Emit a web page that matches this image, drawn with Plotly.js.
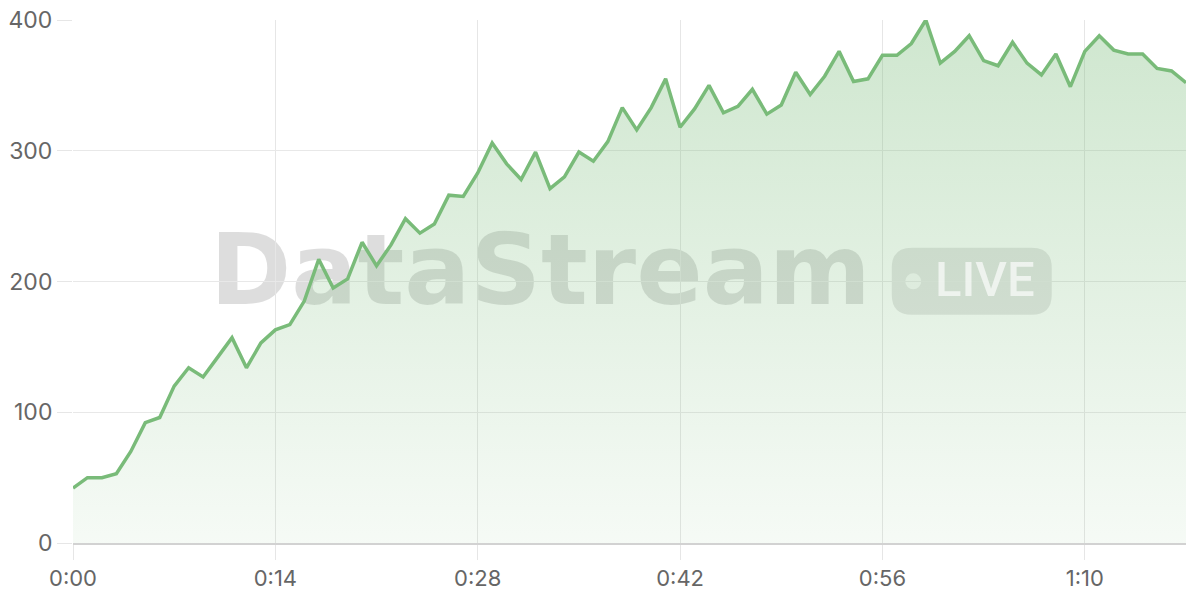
<!DOCTYPE html>
<html>
<head>
<meta charset="utf-8">
<script src="https://cdn.plot.ly/plotly-3.0.1.min.js"></script>
<style>
  html, body { margin: 0; padding: 0; background: #ffffff; }
  #chart { width: 1200px; height: 600px; }
</style>
</head>
<body>
<div id="chart"></div>
<script>
// elapsed time in seconds
const seconds = [0,1,2,3,4,5,6,7,8,9,10,11,12,13,14,15,16,17,18,19,20,21,22,23,24,25,26,27,28,29,30,31,32,33,34,35,36,37,38,39,40,41,42,43,44,45,46,47,48,49,50,51,52,53,54,55,56,57,58,59,60,61,62,63,64,65,66,67,68,69,70,71,72,73,74,75,76,77];
// streamed value
const values = [42,50,50,53,70,92,96,120,134,127,142,157,134,153,163,167,185,217,195,202,230,212,228,248,237,244,266,265,283,306,290,278,299,271,280,299,292,307,333,316,333,355,318,332,350,329,334,347,328,335,360,343,357,376,353,355,373,373,382,400,367,376,388,369,365,383,367,358,374,349,376,388,377,374,374,363,361,352];
const xTickVals = [0,14,28,42,56,70];
const xTickText = ['0:00','0:14','0:28','0:42','0:56','1:10'];
const yTickVals = [0,100,200,300,400];
const watermarkText = 'DataStream';
const badgeText = 'LIVE';

const trace = {
  type: 'scatter',
  mode: 'lines',
  x: seconds,
  y: values,
  line: { color: '#79bb79', width: 3.5 },
  fill: 'tozeroy',
  fillgradient: {
    type: 'vertical',
    start: 0,
    stop: 400,
    colorscale: [[0, 'rgba(121,187,121,0.07)'], [1, 'rgba(121,187,121,0.36)']]
  },
  hoverinfo: 'skip'
};

const layout = {
  width: 1200,
  height: 600,
  margin: { l: 73, r: 14, t: 20, b: 57 },
  paper_bgcolor: '#ffffff',
  plot_bgcolor: 'rgba(0,0,0,0)',
  showlegend: false,
  font: { family: 'Inter, "Open Sans", sans-serif', color: '#666666', size: 22 },
  xaxis: {
    range: [0, 77],
    tickmode: 'array',
    tickvals: xTickVals,
    ticktext: xTickText,
    showgrid: true,
    gridcolor: '#e6e6e6',
    gridwidth: 1,
    zeroline: false,
    showline: true,
    linecolor: '#d2d2d2',
    linewidth: 2,
    ticks: 'outside',
    ticklen: 15,
    tickcolor: '#e6e6e6',
    tickwidth: 1,
    tickfont: { family: 'Inter, "Open Sans", sans-serif', size: 22, color: '#666666' },
    fixedrange: true
  },
  yaxis: {
    range: [0, 400],
    tickmode: 'array',
    tickvals: yTickVals,
    showgrid: true,
    gridcolor: '#e8e8e8',
    gridwidth: 1,
    zeroline: false,
    showline: false,
    ticks: 'outside',
    ticklen: 15,
    tickcolor: '#e6e6e6',
    tickwidth: 1,
    ticklabelstandoff: 0,
    tickfont: { family: 'Inter, "Open Sans", sans-serif', size: 23, color: '#666666' },
    fixedrange: true
  },
  shapes: [
    // watermark word (below the data line)
    {
      type: 'rect', layer: 'below', xref: 'paper', yref: 'paper',
      x0: 0.2, x1: 0.64, y0: 0.436, y1: 0.636,
      line: { width: 0 }, fillcolor: 'rgba(0,0,0,0)',
      label: {
        text: watermarkText,
        textposition: 'middle center',
        font: { family: '"DejaVu Sans", sans-serif', size: 98, color: 'rgba(0,0,0,0.135)', weight: 'bold' }
      }
    },
    // badge background
    {
      type: 'path', layer: 'below', xref: 'paper', yref: 'paper',
      xsizemode: 'pixel', ysizemode: 'pixel', xanchor: 0.8075, yanchor: 0.5004,
      path: 'M -60,-33.5 L 60,-33.5 Q 80,-33.5 80,-13.5 L 80,13.5 Q 80,33.5 60,33.5 L -60,33.5 Q -80,33.5 -80,13.5 L -80,-13.5 Q -80,-33.5 -60,-33.5 Z',
      line: { width: 0 }, fillcolor: 'rgba(0,0,0,0.1)'
    },
    // badge dot
    {
      type: 'circle', layer: 'below', xref: 'paper', yref: 'paper',
      xsizemode: 'pixel', ysizemode: 'pixel', xanchor: 0.8075, yanchor: 0.5004,
      x0: -66.5, x1: -50.5, y0: -8, y1: 8,
      line: { width: 0 }, fillcolor: 'rgba(255,255,255,0.75)'
    }
  ],
  annotations: [
    {
      xref: 'paper', yref: 'paper',
      x: 0.8194, y: 0.5029,
      xanchor: 'center', yanchor: 'middle',
      text: badgeText,
      showarrow: false,
      font: { family: 'Roboto, sans-serif', size: 49, color: 'rgba(255,255,255,0.65)', weight: 500 }
    }
  ]
};

Plotly.newPlot('chart', [trace], layout, { displayModeBar: false, staticPlot: true });
</script>
</body>
</html>
